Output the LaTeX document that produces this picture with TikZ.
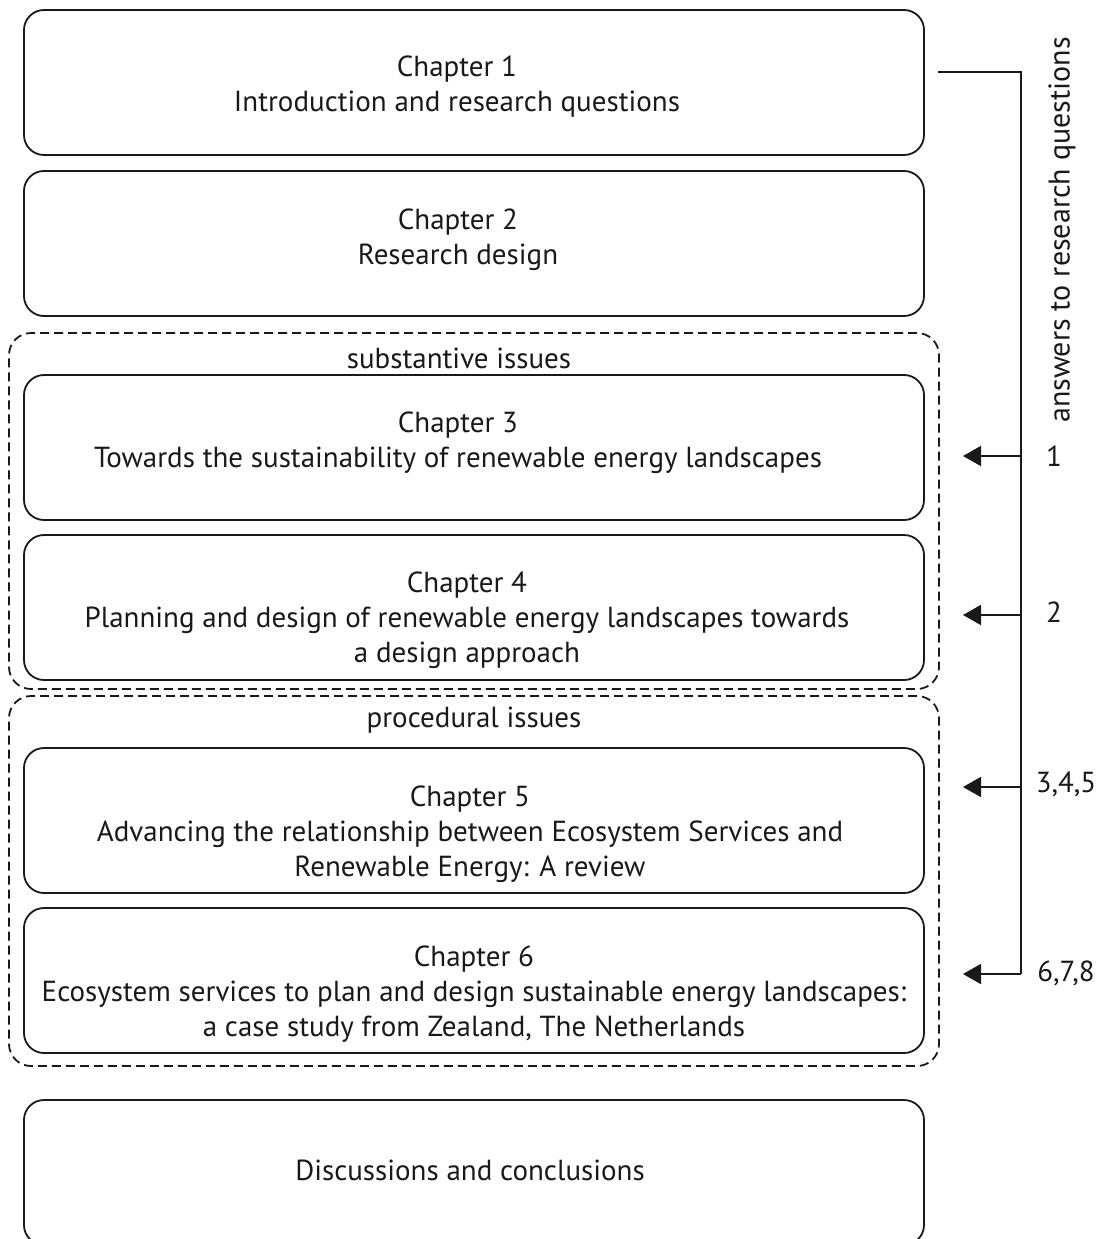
\documentclass[tikz,border=0pt]{standalone}
\usepackage{fontspec}
\setmainfont{PT Sans}
\usetikzlibrary{arrows.meta}
\begin{document}
\begin{tikzpicture}[x=1pt,y=-1pt,
  chapbox/.style={draw=black!90,line width=1.8pt,rounded corners=20pt,
    minimum width=900pt,minimum height=145pt,inner sep=0pt},
  groupbox/.style={draw=black!90,line width=1.8pt,dash pattern=on 9pt off 5pt,
    rounded corners=22pt,minimum width=930pt,inner sep=0pt},
  chaptext/.style={align=center,font=\fontsize{29}{35}\selectfont,text=black!90,inner sep=0pt},
  numtext/.style={font=\fontsize{29}{35}\selectfont,text=black!90,inner sep=0pt},
  link/.style={draw=black!90,line width=1.8pt},
  toarrow/.style={link,-{Triangle[length=18pt,width=20pt]}}
]
\useasboundingbox (0,0) rectangle (1107,1239);

% chapter boxes
\node[chapbox] (b1) at (474,82.5) {};
\node[chapbox] (b2) at (474,243.5) {};
\node[chapbox] (b3) at (474,447.5) {};
\node[chapbox] (b4) at (474,607.5) {};
\node[chapbox] (b5) at (474,820.5) {};
\node[chapbox] (b6) at (474,980.5) {};
\node[chapbox] (b7) at (474,1172.5) {};

% groups of chapters
\node[groupbox,minimum height=356pt] (g1) at (474,511) {};
\node[groupbox,minimum height=370pt] (g2) at (474,881) {};
\node[chaptext] (g1t) at (459,358) {substantive issues};
\node[chaptext] (g2t) at (474,720) {procedural issues};

% chapter titles
\node[chaptext] (t1) at (457,87) {Chapter 1\\Introduction and research questions};
\node[chaptext] (t2) at (458,240) {Chapter 2\\Research design};
\node[chaptext] (t3) at (458,443) {Chapter 3\\Towards the sustainability of renewable energy landscapes};
\node[chaptext] (t4) at (467,620) {Chapter 4\\Planning and design of renewable energy landscapes towards\\a design approach};
\node[chaptext] (t5) at (470,834) {Chapter 5\\Advancing the relationship between Ecosystem Services and\\Renewable Energy: A review};
\node[chaptext] (t6) at (474,994) {Chapter 6\\Ecosystem services to plan and design sustainable energy landscapes:\\a case study from Zealand, The Netherlands};
\node[chaptext] (t7) at (470,1170) {Discussions and conclusions};

% bracket linking the research questions to the chapters
\coordinate (qs) at (938,72);
\coordinate (qc) at (1021,72);
\coordinate (q1) at (1021,456);
\coordinate (q2) at (1021,615);
\coordinate (q3) at (1021,787);
\coordinate (q4) at (1021,974);
\coordinate (a1) at (963,456);
\coordinate (a2) at (963,615);
\coordinate (a3) at (963,787);
\coordinate (a4) at (963,974);
\draw[link] (qs) -- (qc) -- (q4);
\draw[toarrow] (q1) -- (a1);
\draw[toarrow] (q2) -- (a2);
\draw[toarrow] (q3) -- (a3);
\draw[toarrow] (q4) -- (a4);

\node[numtext] (n1) at (1054,456) {1};
\node[numtext] (n2) at (1054,612) {2};
\node[numtext] (n3) at (1066,784) {3,4,5};
\node[numtext] (n4) at (1066,973) {6,7,8};
\node[numtext,rotate=90,font=\fontsize{30}{35}\selectfont] (rq) at (1062,230) {answers to research questions};
\end{tikzpicture}
\end{document}
